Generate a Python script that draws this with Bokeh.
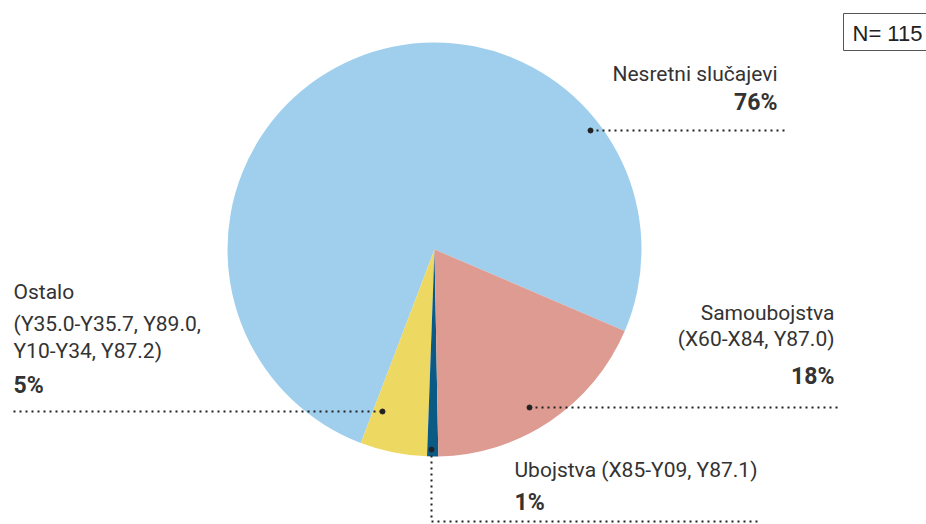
import numpy as np
from bokeh.plotting import figure
from bokeh.models import Range1d, ColumnDataSource
from bokeh.core.properties import value
from bokeh.embed import file_html
from bokeh.resources import INLINE

# ---- data ----
categories = ["Nesretni slučajevi", "Ostalo", "Ubojstva", "Samoubojstva"]
counts = [87, 6, 1, 21]          # N = 115
percent_labels = ["76%", "5%", "1%", "18%"]
colors = ["#9FCFED", "#EDD862", "#0B5A86", "#DE9B92"]
sub_labels = ["", "(Y35.0-Y35.7, Y89.0,\nY10-Y34, Y87.2)", "(X85-Y09, Y87.1)", "(X60-X84, Y87.0)"]
n_total = 115

H = 524  # image height used to flip y (data y = H - screen y)

def Y(v):
    return H - v

p = figure(width=926, height=524, output_backend="svg", toolbar_location=None,
           x_range=Range1d(0, 926), y_range=Range1d(0, 524), min_border=0)
p.axis.visible = False
p.grid.visible = False
p.outline_line_color = None
p.background_fill_color = "white"

# ---- pie ----
cx, cy, r = 434, Y(249), 207
fr = np.array(counts) / sum(counts)
ang = np.cumsum(np.concatenate([[0], fr])) * 2 * np.pi
start0 = np.deg2rad(-23.2)
src = ColumnDataSource(dict(start=start0 + ang[:-1], end=start0 + ang[1:], color=colors))
p.wedge(x=cx, y=cy, radius=r, start_angle="start", end_angle="end",
        fill_color="color", line_color=None, source=src)

txt_col = "#333333"
font = value("Roboto")
DY = 7

def label(x, y, s, align="left", bold=False, size="21px"):
    p.text(x=[x], y=[Y(y - DY)], text=[s], text_align=align, text_baseline="alphabetic",
           text_font=font, text_font_size=size, text_color=txt_col,
           text_font_style="bold" if bold else "normal")

PB = "23px"
# Nesretni slučajevi
label(777, 80, categories[0], "right")
label(777, 109, percent_labels[0], "right", True, PB)
# Samoubojstva
label(834, 319, categories[3], "right")
label(834, 345, sub_labels[3], "right")
label(834, 383, percent_labels[3], "right", True, PB)
# Ostalo
label(13, 298, categories[1])
for i, ln in enumerate(sub_labels[1].split("\n")):
    label(13, 330 + 27 * i, ln)
label(13, 392, percent_labels[1], "left", True, PB)
# Ubojstva
label(514, 476, categories[2] + " " + sub_labels[2])
label(514, 509, percent_labels[2], "left", True, PB)

# ---- leader lines ----
dash = dict(line_color="#222222", line_width=2, line_dash="2 4")
p.line([590, 786], [Y(130), Y(130)], **dash)
p.line([529, 837], [Y(407), Y(407)], **dash)
p.line([13, 382], [Y(411), Y(411)], **dash)
p.line([431, 431, 757], [Y(449), Y(521), Y(521)], **dash)
p.scatter([590, 529, 382, 431], [Y(130), Y(407), Y(411), Y(449)],
          size=5, color="#222222")

# ---- N box ----
p.quad(left=[843], right=[940], top=[Y(13)], bottom=[Y(50)],
       fill_color="white", line_color="#555555", line_width=1)
p.text(x=[852], y=[Y(40 - DY)], text=[f"N= {n_total}"], text_align="left",
       text_baseline="alphabetic", text_font=value("Liberation Sans"),
       text_font_size="22px", text_color="#222222")

open("out.html", "w").write(file_html(p, INLINE))
